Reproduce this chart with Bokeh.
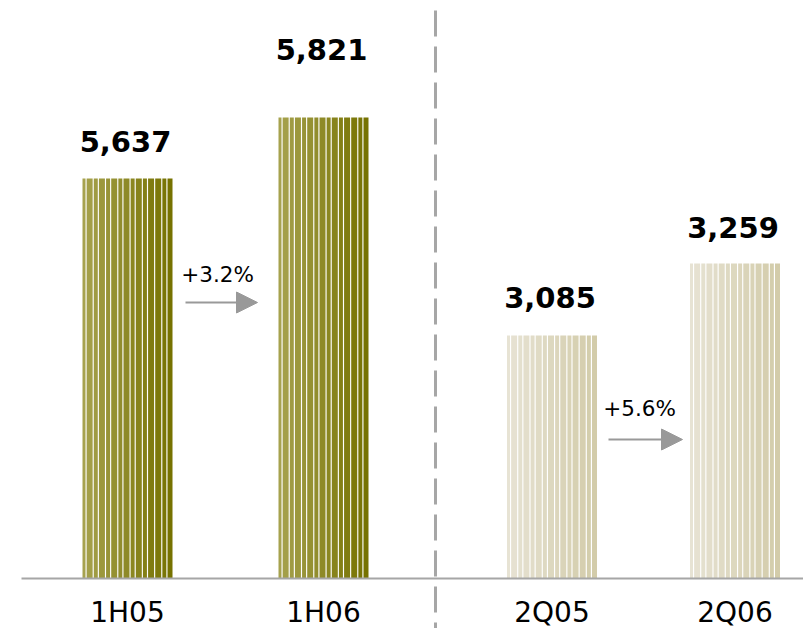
from bokeh.plotting import figure
from bokeh.models import Range1d, Arrow, NormalHead, ColumnDataSource, Span
from bokeh.core.properties import value
from bokeh.embed import file_html
from bokeh.resources import INLINE

# ---- data ----
half_categories = ["1H05", "1H06"]
half_values = [5637, 5821]
half_labels = ["5,637", "5,821"]
half_growth = "+3.2%"

quarter_categories = ["2Q05", "2Q06"]
quarter_values = [3085, 3259]
quarter_labels = ["3,085", "3,259"]
quarter_growth = "+5.6%"

# ---- layout (pixels) ----
W, H = 803, 628
BASE_TOP = 578            # baseline, px from top
half_x = [127, 323]
quarter_x = [551.5, 734.5]
BAR_W = 90
half_label_off = [-37, -68]
quarter_label_off = [-38, -36]

# y scales: each group has its own (non-zero baseline) scale
def make_scale(vals, tops_px):
    a = (tops_px[0] - tops_px[1]) / (vals[1] - vals[0])   # px per unit
    base = vals[0] - (BASE_TOP - tops_px[0]) / a
    start = base - (H - BASE_TOP) / a
    end = start + H / a
    return a, base, start, end

a1, base1, s1, e1 = make_scale(half_values, [178, 117])
a2, base2, s2, e2 = make_scale(quarter_values, [335, 263])

def yval(top_px, a, start):
    return start + (H - top_px) / a

p = figure(width=W, height=H, x_range=Range1d(0, W), y_range=Range1d(s1, e1),
           output_backend="svg", toolbar_location=None, min_border=0,
           x_axis_location=None, y_axis_location=None)
p.extra_y_ranges = {"q": Range1d(s2, e2)}
p.grid.visible = False
p.outline_line_color = None
p.background_fill_color = "white"
p.border_fill_color = "white"

# stripe pattern inside each bar
stripe_w = [3, 6, 4, 6, 4, 6, 4, 6, 4, 6, 4, 6, 6, 4, 5]
gap = (BAR_W - sum(stripe_w)) / (len(stripe_w) - 1)
offsets = []
pos = -BAR_W / 2
for w in stripe_w:
    offsets.append(pos + w / 2)
    pos += w + gap

def lerp(c0, c1, t):
    return "#%02x%02x%02x" % tuple(int(round(c0[i] + (c1[i] - c0[i]) * t)) for i in range(3))

def draw_bars(xs, vals, base, c0, c1, range_name):
    n = len(stripe_w)
    for xc, v in zip(xs, vals):
        src = ColumnDataSource(dict(
            x=[xc + o for o in offsets],
            top=[v] * n,
            w=stripe_w,
            c=[lerp(c0, c1, i / (n - 1)) for i in range(n)],
        ))
        kw = {} if range_name is None else {"y_range_name": range_name}
        p.vbar(x="x", top="top", bottom=base, width="w", fill_color="c",
               line_color=None, source=src, **kw)

draw_bars(half_x, half_values, base1, (166, 162, 78), (118, 114, 0), None)
draw_bars(quarter_x, quarter_values, base2, (231, 227, 212), (211, 204, 170), "q")

# baseline axis line
p.segment(x0=[21], x1=[W], y0=[base1], y1=[base1], line_color="#a6a6a6", line_width=2)

# dashed divider
p.add_layout(Span(location=435, dimension="height", line_color="#a6a6a6",
                  line_width=3, line_dash="26 10", line_dash_offset=26))

FONT = value("DejaVu Sans")

# value labels
p.text(x=half_x, y=half_values, text=half_labels, text_align="center",
       text_baseline="alphabetic", text_font=FONT, text_font_style="bold",
       text_font_size="29px", text_color="black", y_offset=half_label_off, x_offset=-2)
p.text(x=quarter_x, y=quarter_values, text=quarter_labels, text_align="center",
       text_baseline="alphabetic", text_font=FONT, text_font_style="bold",
       text_font_size="29px", text_color="black", y_offset=quarter_label_off, x_offset=-2,
       y_range_name="q")

# category labels
p.text(x=half_x + quarter_x, y=[base1] * 4, text=half_categories + quarter_categories,
       text_align="center", text_baseline="alphabetic", text_font=FONT,
       text_font_size="28px", text_color="black", y_offset=34)

# growth labels and arrows
p.text(x=[217], y=[yval(274, a1, s1)], text=[half_growth], text_align="center",
       text_baseline="alphabetic", text_font=FONT, text_font_size="21.5px", text_color="black")
p.text(x=[639], y=[yval(408, a1, s1)], text=[quarter_growth],
       text_align="center", text_baseline="alphabetic", text_font=FONT,
       text_font_size="21.5px", text_color="black")

ya = yval(302, a1, s1)
p.add_layout(Arrow(x_start=185, x_end=257, y_start=ya, y_end=ya, line_color="#999999",
                   line_width=2,
                   end=NormalHead(size=21, fill_color="#999999", line_color="#999999")))
yb = yval(439, a1, s1)
p.add_layout(Arrow(x_start=608, x_end=682, y_start=yb, y_end=yb, line_color="#999999",
                   line_width=2,
                   end=NormalHead(size=21, fill_color="#999999", line_color="#999999")))

open("out.html", "w").write(file_html(p, INLINE))
